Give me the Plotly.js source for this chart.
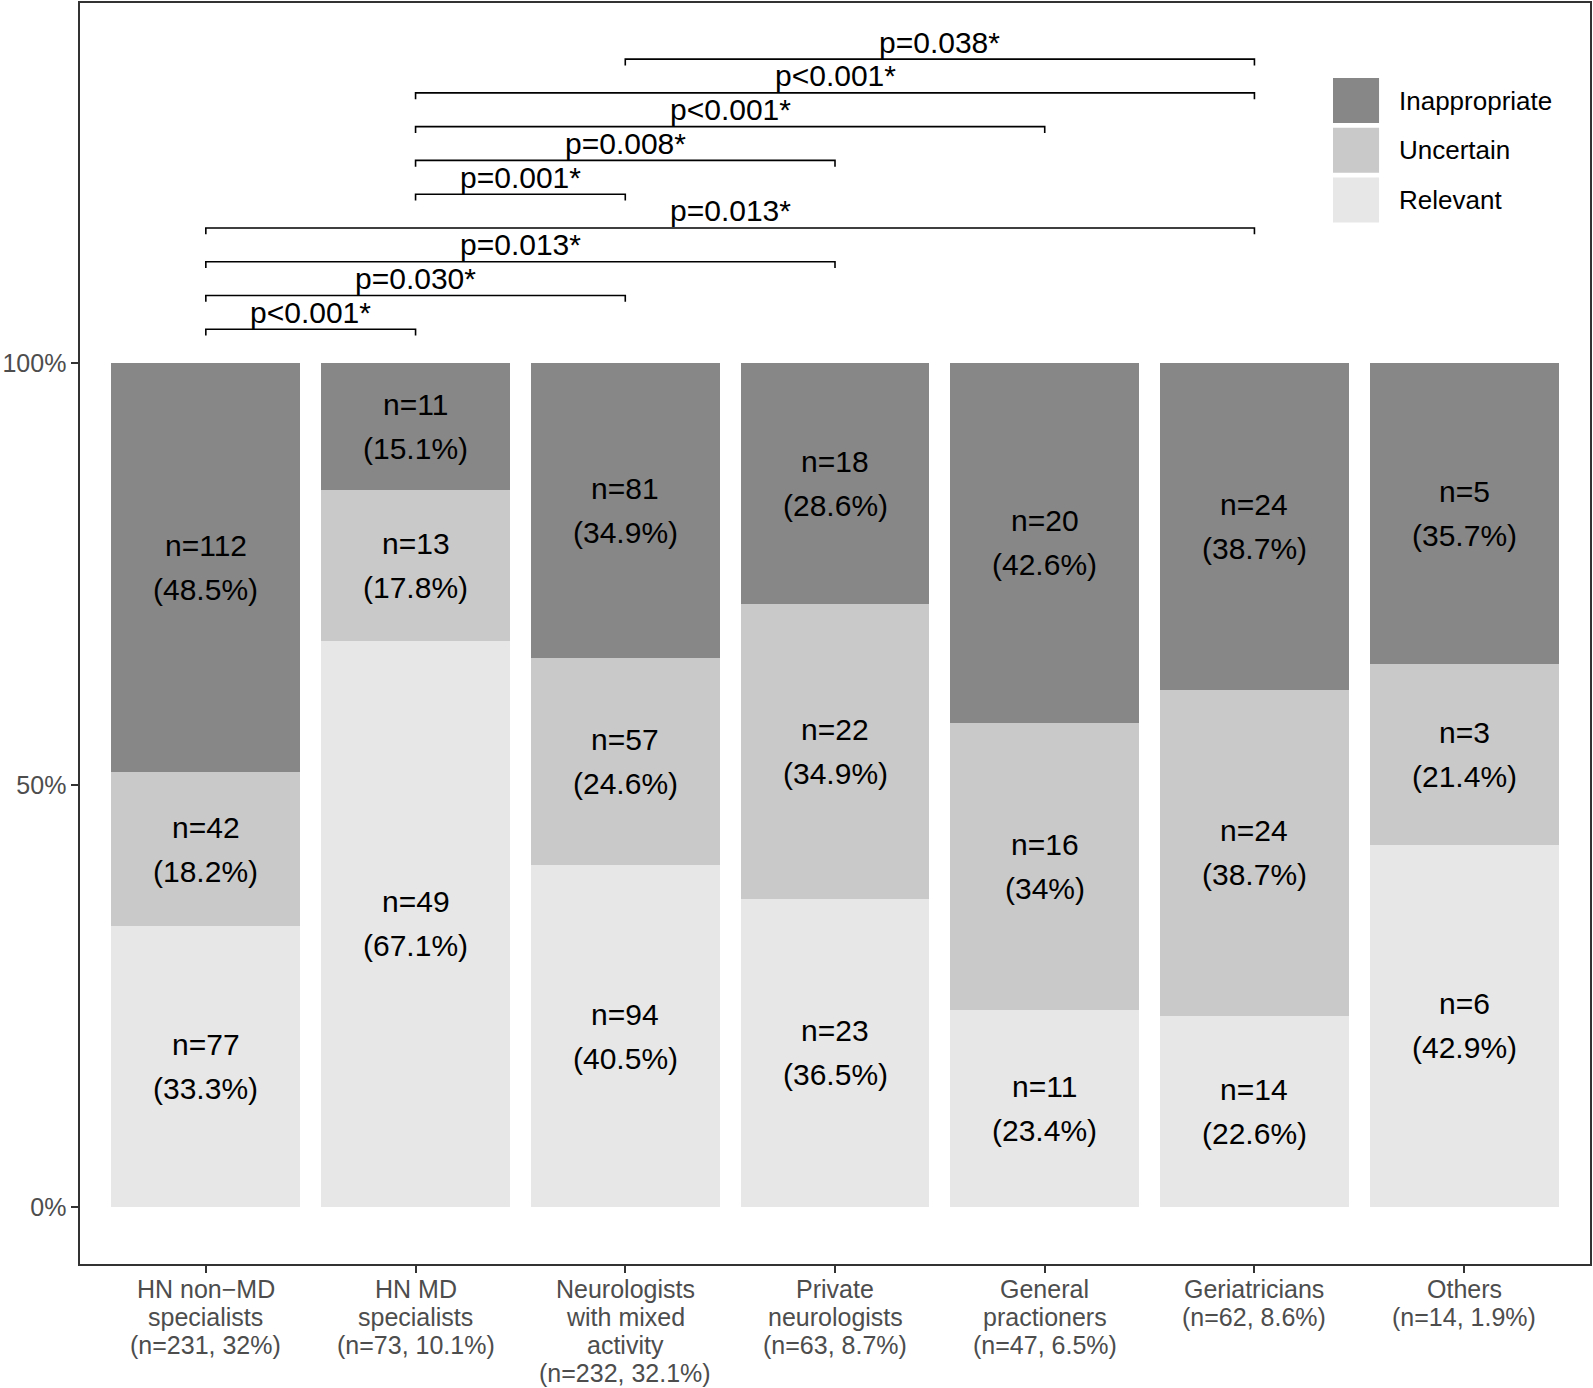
<!DOCTYPE html>
<html>
<head>
<meta charset="utf-8">
<script src="https://cdn.plot.ly/plotly-3.0.1.min.js"></script>
<style>html,body{margin:0;padding:0;background:#fff;}#chart{width:1593px;height:1388px;}</style>
</head>
<body>
<div id="chart"></div>
<script>
// ---- data ----
const categories = ["HN non\u2212MD specialists", "HN MD specialists", "Neurologists with mixed activity", "Private neurologists", "General practioners", "Geriatricians", "Others"];
const categoryLabels = [
  ["HN non\u2212MD", "specialists", "(n=231, 32%)"],
  ["HN MD", "specialists", "(n=73, 10.1%)"],
  ["Neurologists", "with mixed", "activity", "(n=232, 32.1%)"],
  ["Private", "neurologists", "(n=63, 8.7%)"],
  ["General", "practioners", "(n=47, 6.5%)"],
  ["Geriatricians", "(n=62, 8.6%)"],
  ["Others", "(n=14, 1.9%)"]
];
const seriesNames = ["Relevant", "Uncertain", "Inappropriate"];
const relevantN = [77, 49, 94, 23, 11, 14, 6];
const relevantPct = [33.3, 67.1, 40.5, 36.5, 23.4, 22.6, 42.9];
const uncertainN = [42, 13, 57, 22, 16, 24, 3];
const uncertainPct = [18.2, 17.8, 24.6, 34.9, 34, 38.7, 21.4];
const inappropriateN = [112, 11, 81, 18, 20, 24, 5];
const inappropriatePct = [48.5, 15.1, 34.9, 28.6, 42.6, 38.7, 35.7];
const yTickVals = [0, 50, 100];
const yTickText = ["0%", "50%", "100%"];
// significance brackets
const bracketFrom = [0, 0, 0, 0, 1, 1, 1, 1, 2];
const bracketTo = [1, 2, 3, 5, 2, 3, 4, 5, 5];
const bracketLevel = [104, 108, 112, 116, 120, 124, 128, 132, 136];
const bracketLabel = ["p<0.001*", "p=0.030*", "p=0.013*", "p=0.013*", "p=0.001*", "p=0.008*", "p<0.001*", "p<0.001*", "p=0.038*"];

// ---- styles ----
const FONT = "Liberation Sans, Arial, Helvetica, sans-serif";
const colors = {Relevant: "#e7e7e7", Uncertain: "#c9c9c9", Inappropriate: "#878787"};
const seriesN = [relevantN, uncertainN, inappropriateN];
const seriesPct = [relevantPct, uncertainPct, inappropriatePct];

const traces = [];
seriesNames.forEach((name, s) => {
  traces.push({
    type: "bar", name: name, x: categories, y: seriesPct[s],
    marker: {color: colors[name], line: {width: 0}},
    width: 0.9, showlegend: false, hoverinfo: "none"
  });
});

const annotations = [];
// bar labels
categories.forEach((c, i) => {
  let cum = 0;
  for (let s = 0; s < seriesNames.length; s++) {
    const v = seriesPct[s][i];
    const mid = cum + v / 2;
    cum += v;
    annotations.push({x: c, y: mid, xref: "x", yref: "y", text: "n=" + seriesN[s][i], showarrow: false,
      yshift: 22, yanchor: "middle", font: {family: FONT, size: 30, color: "#000"}});
    annotations.push({x: c, y: mid, xref: "x", yref: "y", text: "(" + v + "%)", showarrow: false,
      yshift: -22, yanchor: "middle", font: {family: FONT, size: 30, color: "#000"}});
  }
});

// brackets
const tip = 0.75;
bracketFrom.forEach((a, k) => {
  const b = bracketTo[k], lvl = bracketLevel[k];
  traces.push({
    type: "scatter", mode: "lines", x: [categories[a], categories[a], categories[b], categories[b]],
    y: [lvl - tip, lvl, lvl, lvl - tip], line: {color: "#000", width: 1.6},
    showlegend: false, hoverinfo: "none", cliponaxis: false
  });
  annotations.push({x: (a + b) / 2, y: lvl, xref: "x", yref: "y", text: bracketLabel[k], showarrow: false,
    yanchor: "middle", yshift: 17, font: {family: FONT, size: 30, color: "#000"}});
});

// x tick labels (multi-line, tight spacing)
categoryLabels.forEach((lines, i) => {
  lines.forEach((t, j) => {
    annotations.push({x: categories[i], y: 0, xref: "x", yref: "paper", text: t, showarrow: false,
      yanchor: "middle", yshift: -25 - 28 * j, font: {family: FONT, size: 25, color: "#4d4d4d"}});
  });
});

// manual legend (large keys)
const shapes = [];
const legendOrder = ["Inappropriate", "Uncertain", "Relevant"];
const legX0 = 0.8298, legX1 = 0.8603, legTop = 0.9405, keyH = 0.0357, keyStep = 0.0394;
legendOrder.forEach((name, k) => {
  const y1 = legTop - k * keyStep, y0 = y1 - keyH;
  shapes.push({type: "rect", xref: "paper", yref: "paper", x0: legX0, x1: legX1, y0: y0, y1: y1,
    fillcolor: colors[name], line: {width: 0}});
  annotations.push({xref: "paper", yref: "paper", x: 0.8722, y: (y0 + y1) / 2, xanchor: "left", yanchor: "middle",
    text: name, showarrow: false, font: {family: FONT, size: 26, color: "#000"}});
});

const layout = {
  width: 1593, height: 1388,
  margin: {l: 80, r: 3, t: 3, b: 124, pad: 0},
  paper_bgcolor: "#fff", plot_bgcolor: "#fff",
  barmode: "stack", bargap: 0.1,
  showlegend: false,
  font: {family: FONT, color: "#000"},
  xaxis: {
    type: "category", range: [-0.6, 6.6], showgrid: false, zeroline: false,
    showline: true, mirror: true, linecolor: "#333", linewidth: 1.6,
    ticks: "outside", ticklen: 7, tickwidth: 2, tickcolor: "#333", showticklabels: false
  },
  yaxis: {
    range: [-6.75, 142.65], showgrid: false, zeroline: false,
    showline: true, mirror: true, linecolor: "#333", linewidth: 1.6,
    ticks: "outside", ticklen: 7, tickwidth: 2, tickcolor: "#333",
    tickmode: "array", tickvals: yTickVals, ticktext: yTickText,
    tickfont: {family: FONT, size: 25, color: "#4d4d4d"}
  },
  annotations: annotations,
  shapes: shapes
};

Plotly.newPlot("chart", traces, layout, {displayModeBar: false, staticPlot: true});
</script>
</body>
</html>
